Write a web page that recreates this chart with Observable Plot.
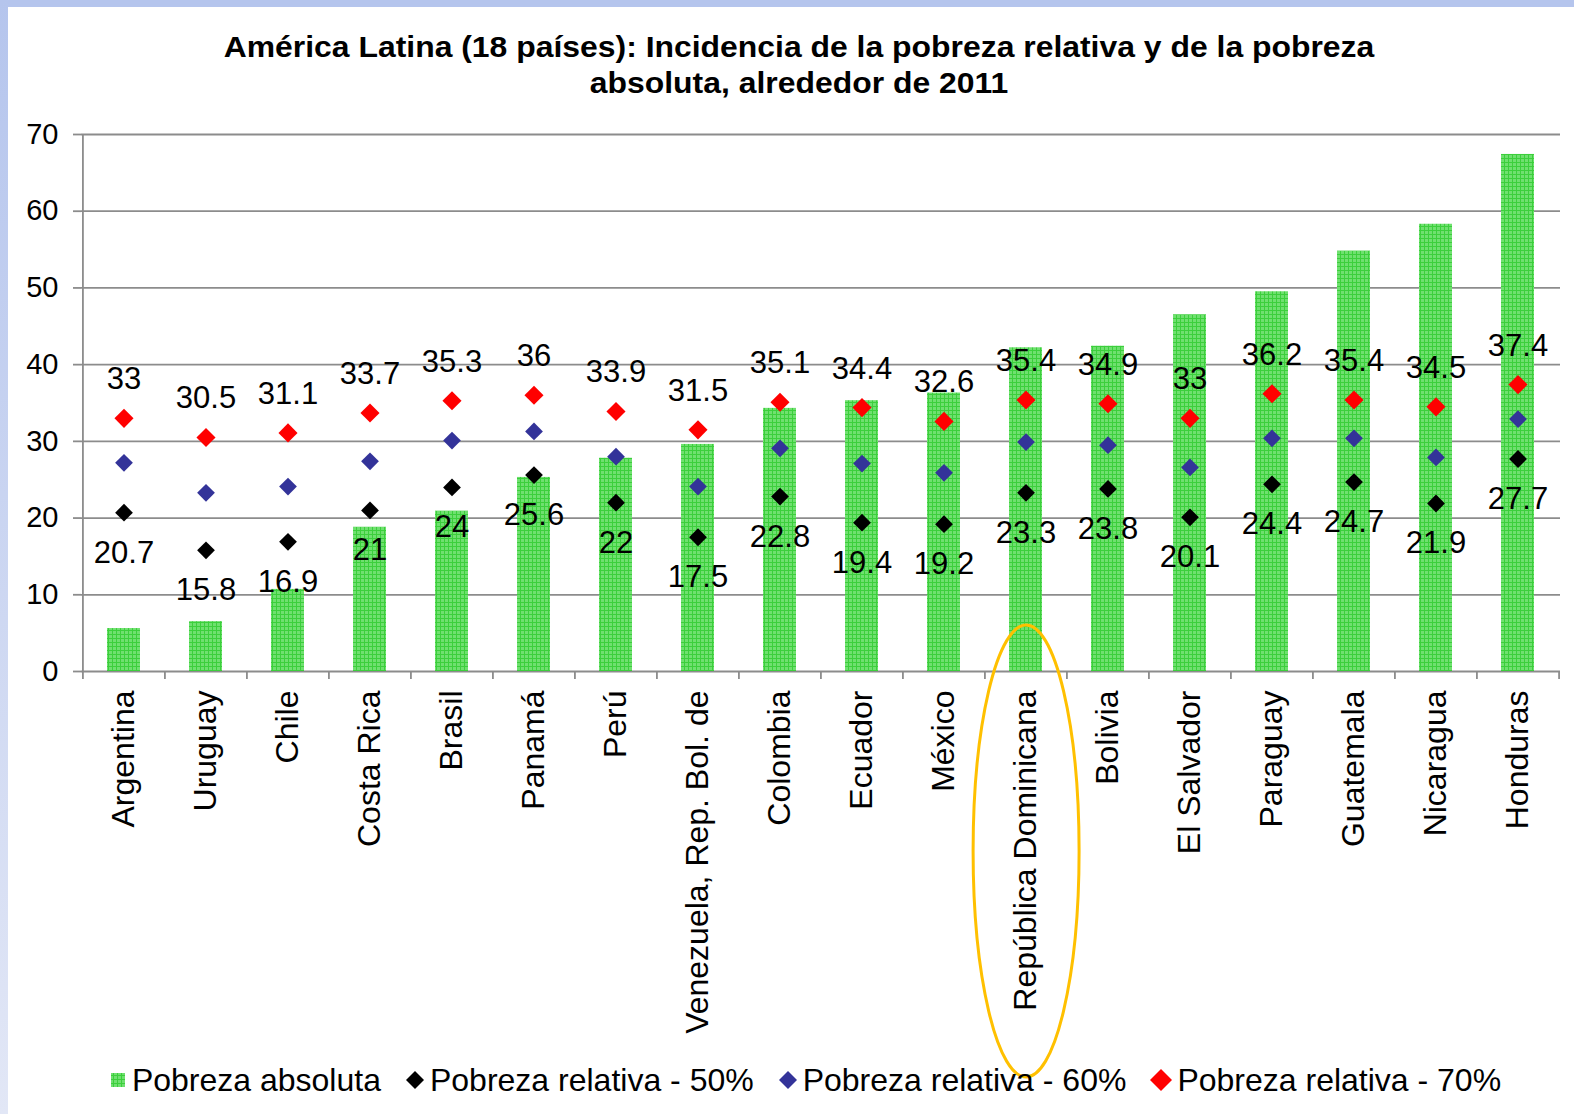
<!DOCTYPE html>
<html>
<head>
<meta charset="utf-8">
<script src="https://cdn.jsdelivr.net/npm/d3@7"></script>
<script src="https://cdn.jsdelivr.net/npm/@observablehq/plot@0.6"></script>
<style>
  html, body { margin: 0; padding: 0; background: #fff; }
  body { width: 1574px; height: 1114px; position: relative; overflow: hidden;
         font-family: "Liberation Sans", Arial, sans-serif; color: #000; }
  #topbar { position: absolute; left: 0; top: 0; width: 1574px; height: 7px; background: #b5c5ed; }
  #leftbar { position: absolute; left: 0; top: 0; width: 8px; height: 1114px;
             background: linear-gradient(#b5c5ed, #e2e7f6); }
  #title { position: absolute; left: 16px; top: 0; width: 1566px; height: 110px; text-align: center;
           font-weight: bold; font-size: 29px; line-height: 36px; padding-top: 29px; box-sizing: border-box;
           transform: scaleX(1.1); transform-origin: 50% 0; }
  #chart { position: absolute; left: 0; top: 110px; }
  #legend { position: absolute; left: 0; top: 1058px; width: 1574px; height: 44px; display: flex;
            justify-content: center; align-items: center; font-size: 32px; padding-left: 36px; box-sizing: border-box; }
  .item { display: flex; align-items: center; margin: 0 12px; white-space: nowrap; }
  .item svg { margin-right: 5px; }
</style>
</head>
<body>
<div id="topbar"></div>
<div id="leftbar"></div>
<div id="title">América Latina (18 países): Incidencia de la pobreza relativa y de la pobreza<br>absoluta, alrededor de 2011</div>
<div id="chart"></div>
<div id="legend"></div>
<script>
const countries = ["Argentina","Uruguay","Chile","Costa Rica","Brasil","Panamá","Perú","Venezuela, Rep. Bol. de","Colombia","Ecuador","México","República Dominicana","Bolivia","El Salvador","Paraguay","Guatemala","Nicaragua","Honduras"];
const absoluta = [5.6, 6.5, 10.7, 18.8, 20.9, 25.3, 27.8, 29.6, 34.3, 35.3, 36.3, 42.2, 42.4, 46.5, 49.5, 54.8, 58.3, 67.4];
const rel50 = [20.7, 15.8, 16.9, 21, 24, 25.6, 22, 17.5, 22.8, 19.4, 19.2, 23.3, 23.8, 20.1, 24.4, 24.7, 21.9, 27.7];
const rel60 = [27.2, 23.3, 24.1, 27.4, 30.1, 31.3, 28.0, 24.1, 29.1, 27.1, 25.9, 29.9, 29.5, 26.6, 30.4, 30.4, 27.9, 32.9];
const rel70 = [33, 30.5, 31.1, 33.7, 35.3, 36, 33.9, 31.5, 35.1, 34.4, 32.6, 35.4, 34.9, 33, 36.2, 35.4, 34.5, 37.4];
const yTicks = [0, 10, 20, 30, 40, 50, 60, 70];
const seriesNames = ["Pobreza absoluta", "Pobreza relativa - 50%", "Pobreza relativa - 60%", "Pobreza relativa - 70%"];
const highlighted = "República Dominicana";

const rows = countries.map((c, i) => ({country: c, abs: absoluta[i], r50: rel50[i], r60: rel60[i], r70: rel70[i]}));

const W = 1574, H = 940, mL = 81, mR = 14, mT = 24, mB = 379;
const step = (W - mL - mR) / countries.length;
const grey = "#8c8c8c";
const font = "'Liberation Sans', Arial, sans-serif";

const plot = Plot.plot({
  width: W, height: H,
  marginLeft: mL, marginRight: mR, marginTop: mT, marginBottom: mB,
  style: {fontFamily: font, color: "#000", background: "transparent", overflow: "visible"},
  x: {domain: countries, paddingInner: 0.6, paddingOuter: 0.3, label: null, axis: null},
  y: {domain: [0, 70], label: null, axis: null},
  marks: [
    Plot.gridY(yTicks, {stroke: grey, strokeOpacity: 1, strokeWidth: 1.8}),
    Plot.ruleX([countries[0]], {dx: -step / 2, y1: 0, y2: 70, stroke: grey, strokeWidth: 1.8}),
    Plot.axisY(yTicks, {tickSize: 8, tickPadding: 15, fontSize: 29, stroke: grey, strokeWidth: 1.8, label: null}),
    Plot.axisX({tickSize: 8, tickFormat: () => "", dx: -step / 2, stroke: grey, strokeWidth: 1.8, label: null}),
    Plot.axisX([countries[countries.length - 1]], {tickSize: 8, tickFormat: () => "", dx: step / 2, stroke: grey, strokeWidth: 1.8, label: null}),
    Plot.axisX({tickSize: 0, tickRotate: -90, tickPadding: 19, fontSize: 32, label: null}),
    Plot.barY(rows, {x: "country", y: "abs", fill: "url(#greengrid)"}),
    Plot.dot(rows, {x: "country", y: "r50", symbol: "diamond2", r: 8, fill: "#000", stroke: null}),
    Plot.dot(rows, {x: "country", y: "r60", symbol: "diamond2", r: 8, fill: "#333399", stroke: null}),
    Plot.dot(rows, {x: "country", y: "r70", symbol: "diamond2", r: 8.6, fill: "#ff0000", stroke: null}),
    Plot.text(rows, {x: "country", y: "r70", text: d => String(d.r70), dy: -39, fontSize: 31, fill: "#000"}),
    Plot.text(rows, {x: "country", y: "r50", text: d => String(d.r50), dy: 40, fontSize: 31, fill: "#000"})
  ]
});

plot.insertAdjacentHTML("afterbegin",
  `<defs><pattern id="greengrid" patternUnits="userSpaceOnUse" width="4" height="4">
     <rect width="4" height="4" fill="#6fe06f"/>
     <rect x="0" y="0" width="4" height="1" fill="#3ccf3c"/>
     <rect x="0" y="0" width="1" height="4" fill="#3ccf3c"/>
   </pattern></defs>`);

// highlight ellipse around the chosen country, positioned from the x and y scales
const sx = plot.scale("x"), sy = plot.scale("y");
const idx = countries.indexOf(highlighted);
const cx = sx.range[0] + sx.paddingOuter * sx.step + idx * sx.step + sx.bandwidth / 2 + 2;
const y0 = sy.range[0];
d3.select(plot).append("ellipse")
  .attr("cx", cx).attr("cy", y0 + 180).attr("rx", 53).attr("ry", 226)
  .attr("fill", "none").attr("stroke", "#ffc000").attr("stroke-width", 3);

document.getElementById("chart").append(plot);

// legend
const legend = document.getElementById("legend");
const swatches = [
  `<svg width="18" height="18"><rect x="2" y="2" width="14" height="14" fill="url(#greengrid)"/></svg>`,
  `<svg width="20" height="20"><path d="M10 1 L19 10 L10 19 L1 10 Z" fill="#000"/></svg>`,
  `<svg width="20" height="20"><path d="M10 1 L19 10 L10 19 L1 10 Z" fill="#333399"/></svg>`,
  `<svg width="22" height="22"><path d="M11 0 L22 11 L11 22 L0 11 Z" fill="#ff0000"/></svg>`
];
seriesNames.forEach((name, i) => {
  const el = document.createElement("div");
  el.className = "item";
  el.innerHTML = swatches[i] + `<span>${name}</span>`;
  legend.append(el);
});
</script>
</body>
</html>
